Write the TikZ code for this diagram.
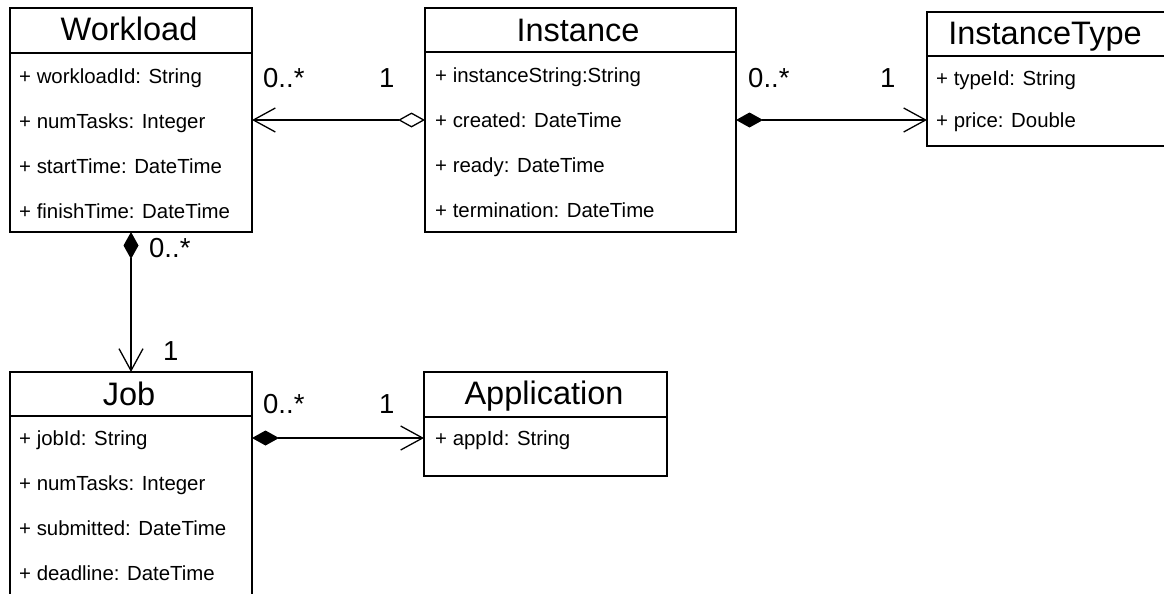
\documentclass[tikz,border=0pt]{standalone}
\usepackage{fontspec}
\setmainfont{Liberation Sans}
\usetikzlibrary{arrows.meta,calc}

\tikzset{
  classbox/.style={draw, line width=1.3pt, anchor=north west, inner sep=0pt, outer sep=0pt},
  title/.style={anchor=base, inner sep=0pt, font=\fontsize{32.5}{32.5}\selectfont},
  attr/.style={anchor=base west, inner sep=0pt, font=\fontsize{20.4}{20.4}\selectfont},
  mult/.style={anchor=base west, inner sep=0pt, font=\fontsize{27.5}{27.5}\selectfont},
  link/.style={line width=1.3pt},
  barb/.tip={Straight Barb[length=22pt,width=24pt,line width=1.3pt]},
  hdiam/.tip={Diamond[open,length=27pt,width=15pt,line width=1.3pt,fill=white]},
  fdiam/.tip={Diamond[length=27pt,width=15pt]},
}

\begin{document}
\begin{tikzpicture}[x=1pt,y=-1pt]
\useasboundingbox (0,0) rectangle (1164,594);
\clip (0,0) rectangle (1164,594);

% ---------- Workload ----------
\node[classbox, minimum width=242pt, minimum height=224pt] (wl) at (10,8) {};
\draw[line width=1.3pt] (10,53) -- (252,53);
\node[title] (wlT) at (129,41) {Workload};
\node[attr] (wl1) at (19,83)  {+ workloadId: String};
\node[attr] (wl2) at (19,128) {+ numTasks: Integer};
\node[attr] (wl3) at (19,173) {+ startTime: DateTime};
\node[attr] (wl4) at (19,218) {+ finishTime: DateTime};

% ---------- Instance ----------
\node[classbox, minimum width=311pt, minimum height=224pt] (inst) at (425,8) {};
\draw[line width=1.3pt] (425,52) -- (736,52);
\node[title] (instT) at (578,42) {Instance};
\node[attr] (in1) at (435,82)  {+ instanceString:String};
\node[attr] (in2) at (435,127) {+ created: DateTime};
\node[attr] (in3) at (435,172) {+ ready: DateTime};
\node[attr] (in4) at (435,217) {+ termination: DateTime};

% ---------- InstanceType ----------
\node[classbox, minimum width=250pt, minimum height=134pt] (itype) at (927,12) {};
\draw[line width=1.3pt] (927,56) -- (1177,56);
\node[title] (itT) at (1045,45) {InstanceType};
\node[attr] (it1) at (936,85)  {+ typeId: String};
\node[attr] (it2) at (936,127) {+ price: Double};

% ---------- Job ----------
\node[classbox, minimum width=242pt, minimum height=240pt] (job) at (10,372) {};
\draw[line width=1.3pt] (10,416) -- (252,416);
\node[title] (jobT) at (129,405) {Job};
\node[attr] (jb1) at (19,445) {+ jobId: String};
\node[attr] (jb2) at (19,490) {+ numTasks: Integer};
\node[attr] (jb3) at (19,535) {+ submitted: DateTime};
\node[attr] (jb4) at (19,580) {+ deadline: DateTime};

% ---------- Application ----------
\node[classbox, minimum width=243pt, minimum height=104pt] (app) at (424,372) {};
\draw[line width=1.3pt] (424,417) -- (667,417);
\node[title] (appT) at (544,404) {Application};
\node[attr] (ap1) at (435,445) {+ appId: String};

% ---------- connector rows ----------
\coordinate (rowTop) at (0,120);
\coordinate (rowApp) at (0,438);

% Instance o--> Workload
\draw[link, hdiam-barb] (inst.west |- rowTop) -- (wl.east |- rowTop);
\node[mult] (m1) at (263,87) {0..*};
\node[mult] (m2) at (379,87) {1};

% Instance *--> InstanceType
\draw[link, fdiam-barb] (inst.east |- rowTop) -- (itype.west |- rowTop);
\node[mult] (m3) at (748,88) {0..*};
\node[mult] (m4) at (880,88) {1};

% Workload *--> Job
\draw[link, fdiam-barb] (wl.south) -- (job.north);
\node[mult] (m5) at (149,257) {0..*};
\node[mult] (m6) at (163,360) {1};

% Job *--> Application
\draw[link, fdiam-barb] (job.east |- rowApp) -- (app.west |- rowApp);
\node[mult] (m7) at (263,413) {0..*};
\node[mult] (m8) at (379,413) {1};
\end{tikzpicture}
\end{document}
